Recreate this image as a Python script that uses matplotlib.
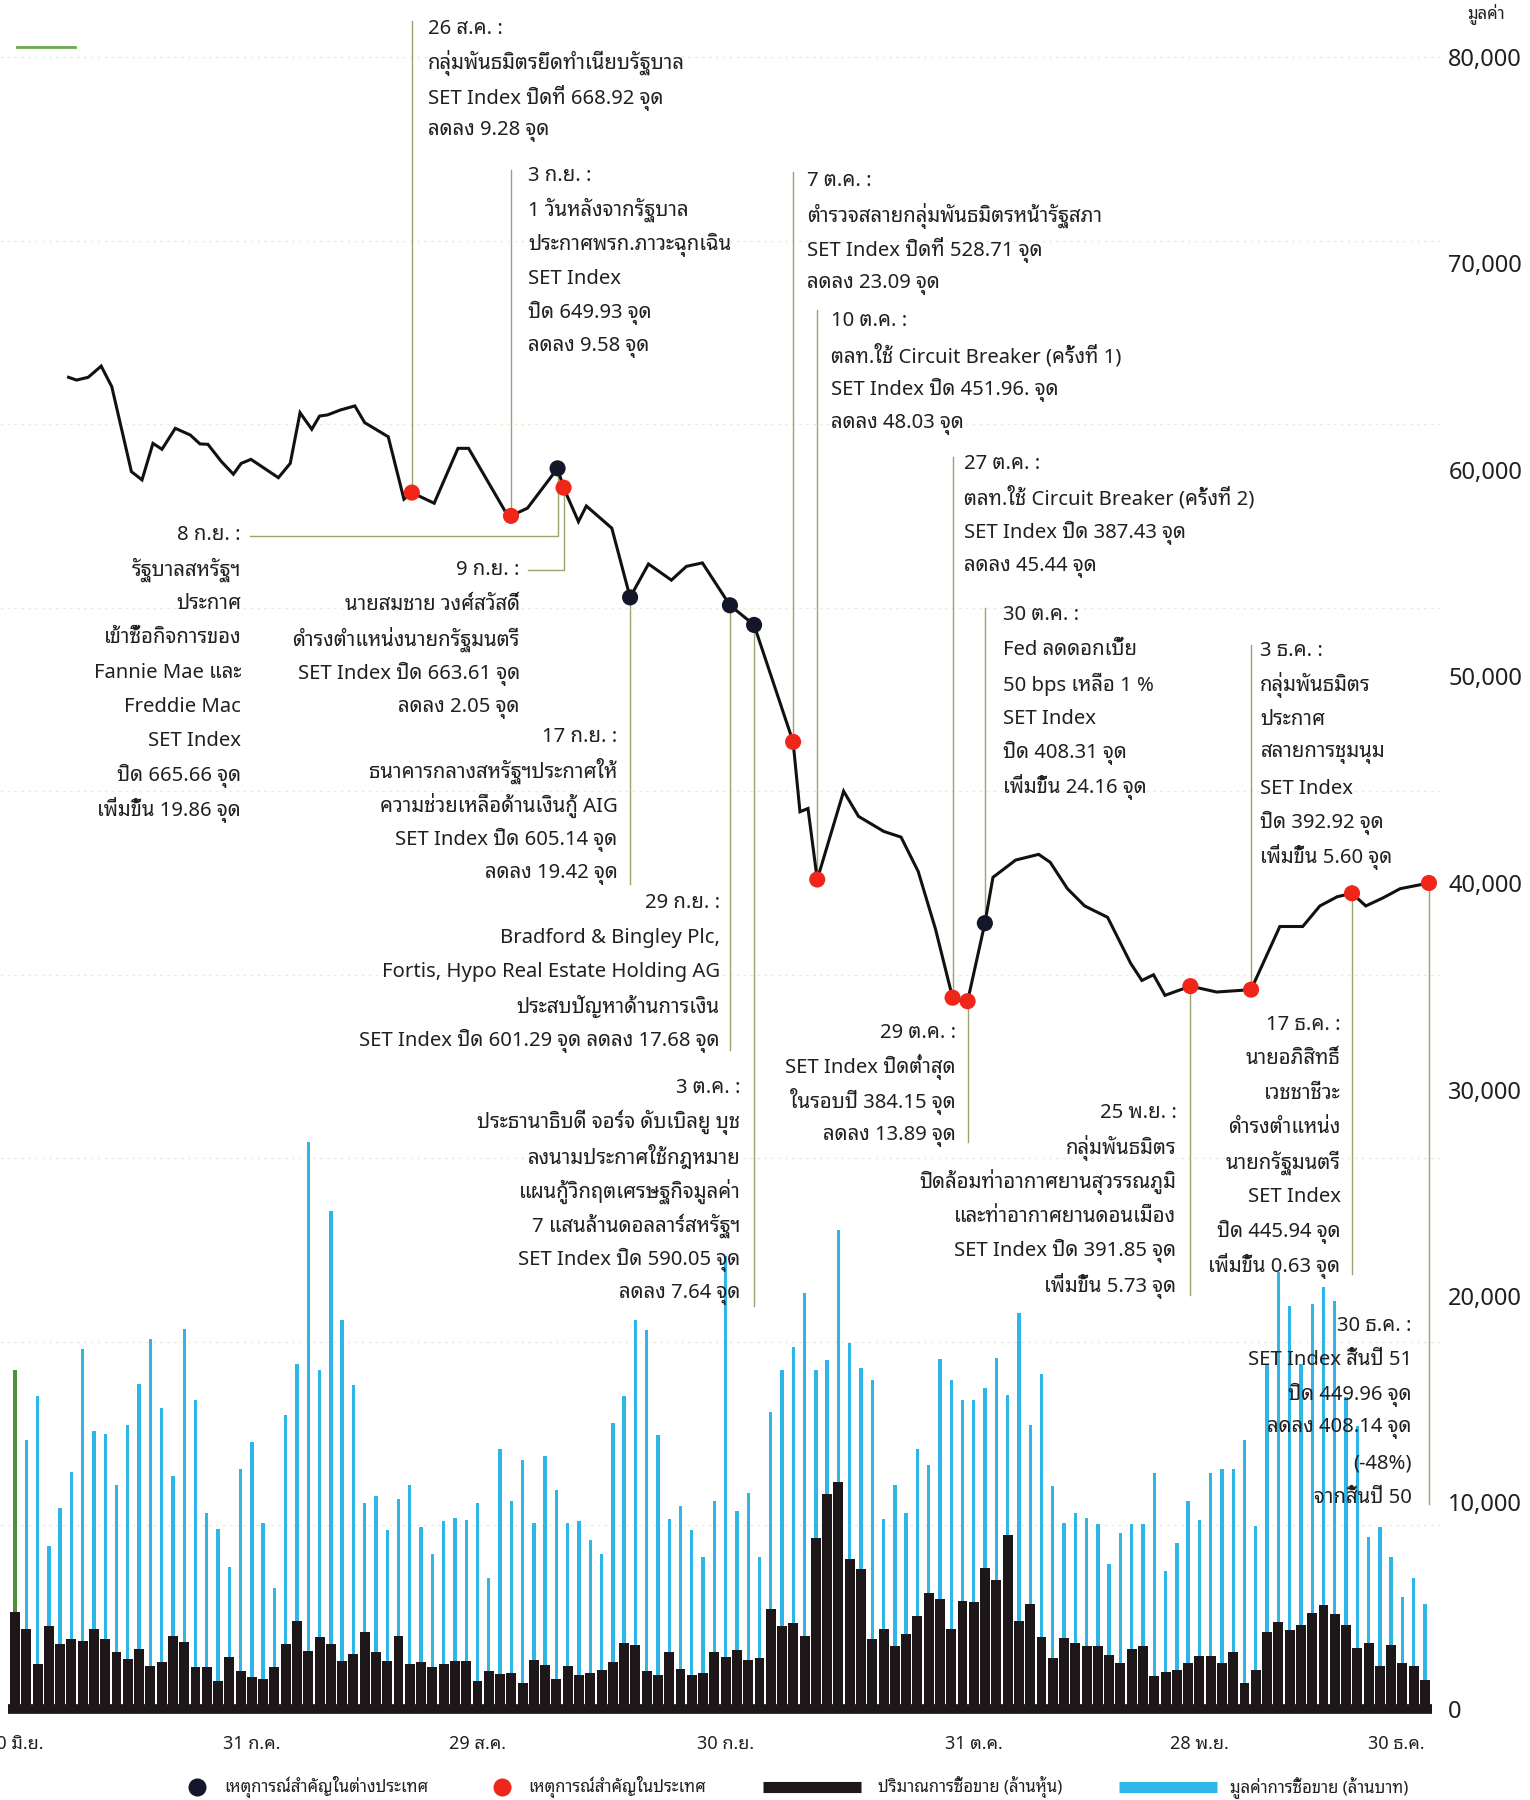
import numpy as np
import matplotlib
matplotlib.use('Agg')
import matplotlib.pyplot as plt
from matplotlib import font_manager, ft2font

W, H = 1530, 1800
S = W / 1333  # annotation layout was measured on a 1333 px wide copy

# daily turnover, 30 Jun - 30 Dec 2008
value_mb = [16420, 13030, 15140, 7890, 9730, 11500, 17430, 13450, 13300, 10830, 13760, 15730, 17930, 14590, 11290,
            18400, 14960, 9490, 8720, 6880, 11620, 12940,
            8990, 5870, 14220, 16700, 27470, 16420, 24130, 18850, 15690, 9960, 10330, 8680, 10150, 10830, 8810,
            7520, 9120, 9270, 9160, 10000, 6330,
            12570, 10090, 12060, 8990, 12240, 10590, 8990, 9080, 8170, 7520, 13850, 15180, 18850, 18350, 13270,
            9180, 9820, 8680, 7340, 10090, 21930,
            9600, 10460, 7340, 14400, 16420, 17520, 20150, 16420, 16880, 23180, 17710, 16520, 15910, 9180, 10830,
            9490, 12610, 11800, 16940, 15910, 14960,
            14960, 15540, 17010, 15230, 19180, 13760, 16240,
            10800, 9030, 9470, 9260, 8970, 7030, 8500, 8970, 8970, 11420, 6670, 8020, 10090, 9150, 11420, 11630,
            11630, 13040, 8850, 16730, 21150, 19520, 16730, 19590, 20440, 19740, 15130, 13720, 8320, 8800, 7350,
            5400, 6320, 5080]
volume_ms = [4680, 3870, 2180, 4030, 3150, 3390, 3310, 3870, 3390, 2740, 2420, 2900, 2100, 2260, 3550, 3230, 2020,
             2020, 1370, 2500, 1860, 1530, 1450, 2020, 3150, 4280, 2820, 3470, 3150, 2340, 2660, 3710, 2740, 2340,
             3550, 2180, 2260, 2020, 2180, 2340, 2340, 1370, 1860, 1700,
             1740, 1280, 2390, 2150, 1470, 2070, 1650, 1740, 1890, 2260, 3210, 3120, 1830, 1650, 2750, 1960, 1650,
             1740, 2750, 2510,
             2880, 2390, 2480, 4830, 4040, 4170, 3540, 8260, 10400, 11010, 7280, 6790, 3390, 3850, 3030, 3610,
             4500, 5630, 5320, 3850, 5230,
             5190, 6840, 6240, 8440, 4280, 5080, 3500,
             2480, 3450, 3190, 3060, 3060, 2600, 2250, 2920, 3060, 1590, 1770, 1890, 2250, 2570, 2570, 2250, 2740,
             1240, 1890, 3720, 4190, 3810, 4070, 4660, 5040, 4600, 4070, 2960, 3190, 2070, 3100, 2250, 2070, 1420]

tick_day = [0, 21, 41, 63, 85, 105, 125]
tick_text = ['30 มิ.ย.', '31 ก.ค.', '29 ส.ค.', '30 ก.ย.', '31 ต.ค.', '28 พ.ย.', '30 ธ.ค.']
value_ticks = [0, 10000, 20000, 30000, 40000, 50000, 60000, 70000, 80000]

# SET index line, vertices (x in trading-day units)
set_day = [4.75, 5.45, 6.49, 7.64, 8.58, 10.32, 11.26, 12.23, 13.03, 14.21, 15.53, 16.4, 17.1, 18.31, 19.36,
           20.05, 20.92, 23.35, 24.4, 25.27, 26.31, 27.0, 27.7, 28.85, 30.13, 31.0, 33.09, 34.48, 35.18, 37.16,
           39.27, 40.21, 43.52, 43.97, 45.43, 48.1, 48.63, 49.95, 50.65, 52.91,
           54.53, 56.16, 58.19, 59.52, 60.94, 63.38, 65.52, 68.98, 69.59, 70.3, 71.12, 73.46, 74.78, 77.02,
           78.55, 80.07, 81.6, 83.12, 83.94, 84.45, 85.98, 86.7, 88.71, 90.75, 91.77, 93.3, 94.83, 96.86, 98.9,
           99.9, 100.93, 101.95, 104.2, 106.53, 109.58, 112.13, 114.16, 115.68, 117.21, 118.53, 119.75, 121.28,
           122.8, 125.35]
set_close = [725.5, 724.0, 725.5, 731.6, 720.4, 674.1, 669.6, 689.5, 686.3, 697.7, 694.1, 689.2, 689.0, 679.5,
             672.7, 678.6, 680.8, 670.8, 678.6, 706.2, 697.2, 704.4, 705.0, 707.7, 709.9, 700.8, 693.1, 659.1,
             662.7, 656.9, 686.8, 686.8, 651.8, 650.0, 654.2, 675.9, 665.4, 646.9, 655.4, 643.3,
             605.6, 623.8, 615.0, 622.5, 624.4, 601.3, 590.6, 526.9, 488.8, 490.6, 451.9, 500.0, 486.3, 478.1,
             475.0, 456.3, 425.0, 387.5, 385.6, 385.6, 428.1, 453.1, 462.5, 465.6, 461.3, 446.9, 437.5, 431.3,
             406.3, 396.9, 400.0, 388.8, 393.8, 390.6, 391.9, 426.3, 426.3, 437.5, 442.5, 444.4, 437.5, 441.9,
             446.9, 450.0]

# key events: day, SET level, foreign (True) / domestic (False)
ev_day = [35.18, 43.97, 48.1, 48.63, 54.53, 63.38, 65.52, 68.98, 71.12, 83.12, 84.45, 85.98, 104.2, 109.58,
          118.53, 125.35]
ev_set = [662.7, 650.0, 675.9, 665.4, 605.6, 601.3, 590.6, 526.9, 451.9, 387.5, 385.6, 428.1, 393.8, 391.9,
          444.4, 450.0]
ev_foreign = [False, False, True, False, True, True, True, False, False, False, False, True, False, False,
              False, False]
ev_text = [
    ['26 ส.ค. :', 'กลุ่มพันธมิตรยึดทำเนียบรัฐบาล', 'SET Index ปิดที่ 668.92 จุด', 'ลดลง 9.28 จุด'],
    ['3 ก.ย. :', '1 วันหลังจากรัฐบาล', 'ประกาศพรก.ภาวะฉุกเฉิน', 'SET Index', 'ปิด 649.93 จุด', 'ลดลง 9.58 จุด'],
    ['8 ก.ย. :', 'รัฐบาลสหรัฐฯ', 'ประกาศ', 'เข้าซื้อกิจการของ', 'Fannie Mae และ', 'Freddie Mac', 'SET Index',
     'ปิด 665.66 จุด', 'เพิ่มขึ้น 19.86 จุด'],
    ['9 ก.ย. :', 'นายสมชาย วงศ์สวัสดิ์', 'ดำรงตำแหน่งนายกรัฐมนตรี', 'SET Index ปิด 663.61 จุด', 'ลดลง 2.05 จุด'],
    ['17 ก.ย. :', 'ธนาคารกลางสหรัฐฯประกาศให้', 'ความช่วยเหลือด้านเงินกู้ AIG', 'SET Index ปิด 605.14 จุด',
     'ลดลง 19.42 จุด'],
    ['29 ก.ย. :', 'Bradford & Bingley Plc,', 'Fortis, Hypo Real Estate Holding AG', 'ประสบปัญหาด้านการเงิน',
     'SET Index ปิด 601.29 จุด ลดลง 17.68 จุด'],
    ['3 ต.ค. :', 'ประธานาธิบดี จอร์จ ดับเบิลยู บุช', 'ลงนามประกาศใช้กฎหมาย', 'แผนกู้วิกฤตเศรษฐกิจมูลค่า',
     '7 แสนล้านดอลลาร์สหรัฐฯ', 'SET Index ปิด 590.05 จุด', 'ลดลง 7.64 จุด'],
    ['7 ต.ค. :', 'ตำรวจสลายกลุ่มพันธมิตรหน้ารัฐสภา', 'SET Index ปิดที่ 528.71 จุด', 'ลดลง 23.09 จุด'],
    ['10 ต.ค. :', 'ตลท.ใช้ Circuit Breaker (ครั้งที่ 1)', 'SET Index ปิด 451.96. จุด', 'ลดลง 48.03 จุด'],
    ['27 ต.ค. :', 'ตลท.ใช้ Circuit Breaker (ครั้งที่ 2)', 'SET Index ปิด 387.43 จุด', 'ลดลง 45.44 จุด'],
    ['29 ต.ค. :', 'SET Index ปิดต่ำสุด', 'ในรอบปี 384.15 จุด', 'ลดลง 13.89 จุด'],
    ['30 ต.ค. :', 'Fed ลดดอกเบี้ย', '50 bps เหลือ 1 %', 'SET Index', 'ปิด 408.31 จุด', 'เพิ่มขึ้น 24.16 จุด'],
    ['25 พ.ย. :', 'กลุ่มพันธมิตร', 'ปิดล้อมท่าอากาศยานสุวรรณภูมิ', 'และท่าอากาศยานดอนเมือง',
     'SET Index ปิด 391.85 จุด', 'เพิ่มขึ้น 5.73 จุด'],
    ['3 ธ.ค. :', 'กลุ่มพันธมิตร', 'ประกาศ', 'สลายการชุมนุม', 'SET Index', 'ปิด 392.92 จุด', 'เพิ่มขึ้น 5.60 จุด'],
    ['17 ธ.ค. :', 'นายอภิสิทธิ์', 'เวชชาชีวะ', 'ดำรงตำแหน่ง', 'นายกรัฐมนตรี', 'SET Index', 'ปิด 445.94 จุด',
     'เพิ่มขึ้น 0.63 จุด'],
    ['30 ธ.ค. :', 'SET Index สิ้นปี 51', 'ปิด 449.96 จุด', 'ลดลง 408.14 จุด', '(-48%)', 'จากสิ้นปี 50'],
]

# layout of each note (px on the 1333 wide copy): text x, first line y, align, leader kind, leader end y, elbow x
ev_layout = [
    (373, 25, 'left', 'up', 18, None),
    (460, 153, 'left', 'up', 148, None),
    (210, 466, 'right', 'elbow', 467, 218),
    (453, 497, 'right', 'elbow', 497, 460),
    (538, 642, 'right', 'down', 770, None),
    (627, 787, 'right', 'down', 915, None),
    (645, 948, 'right', 'down', 1138, None),
    (703, 158, 'left', 'up', 150, None),
    (724, 280, 'left', 'up', 270, None),
    (840, 404, 'left', 'up', 398, None),
    (833, 900, 'right', 'down', 995, None),
    (874, 536, 'left', 'up', 530, None),
    (1025, 970, 'right', 'down', 1128, None),
    (1098, 567, 'left', 'up', 562, None),
    (1168, 893, 'right', 'down', 1110, None),
    (1230, 1155, 'right', 'down', 1310, None),
]


def find_thai():
    prefs = ['Noto Sans Thai Looped', 'IBM Plex Sans Thai Looped', 'Loma', 'Noto Sans Thai']
    found = set()
    for f in font_manager.fontManager.ttflist:
        try:
            if 0x0E14 in ft2font.FT2Font(f.fname).get_charmap():
                found.add(f.name)
        except Exception:
            continue
    for p in prefs:
        if p in found:
            return p
    return sorted(found)[0] if found else 'DejaVu Sans'


thai = find_thai()
plt.rcParams['font.family'] = [thai, 'DejaVu Sans']

INK = '#231f20'
CYAN = '#2eb6e8'
BAR_K = '#1d1719'
RED = '#f0261b'
NAVY = '#14172a'
LEAD = '#9aa46e'

fig = plt.figure(figsize=(W / 100, H / 100), dpi=100)
fig.patch.set_facecolor('white')

x0_px, x1_px, right_px = 15, 1425, 1440
px_day = (x1_px - x0_px) / (len(value_mb) - 1)
zero_px, top_px, bottom_px = 1709, 57, 1716
px_unit = (zero_px - top_px) / 80000

ax = fig.add_axes([0, (H - bottom_px) / H, right_px / W, bottom_px / H])
ax.set_xlim(-x0_px / px_day, (right_px - x0_px) / px_day)
ax.set_ylim(-(bottom_px - zero_px) / px_unit, zero_px / px_unit)

ax2 = ax.twinx()
set_px = (zero_px - top_px) / 900
ax2.set_ylim(-(bottom_px - zero_px) / set_px, zero_px / set_px)
ax2.set_yticks([])
for sp in ax2.spines.values():
    sp.set_visible(False)

days = np.arange(len(value_mb))
for v in range(100, 1000, 100):
    ax.axhline(v * 80000 / 900, color='#ecebdd', lw=1, ls=(0, (2, 3)), zorder=0)
ax.axhline(80500, xmin=0.012, xmax=0.052, color='#6aa84f', lw=2, zorder=1)

bar_colors = ['#4f8f3a'] + [CYAN] * (len(value_mb) - 1)
ax.bar(days, value_mb, width=0.3, color=bar_colors, zorder=2)
ax.bar(days, volume_ms, width=0.88, color=BAR_K, zorder=3)
ax.hlines(0, -0.6, len(days) - 0.4, color=BAR_K, lw=7, zorder=4)

# twinx moved the ticks to the left, put the value scale back on the right
ax.yaxis.tick_right()
ax.set_yticks(value_ticks)
ax.set_yticklabels([f'{v:,}' for v in value_ticks], fontsize=17, color=INK, family='Noto Sans')
ax.set_xticks(tick_day)
ax.set_xticklabels(tick_text, fontsize=13, color=INK, fontweight='medium')
ax.get_xticklabels()[-1].set_ha('right')
ax.tick_params(axis='both', length=0)
ax.tick_params(axis='x', pad=14)
ax.tick_params(axis='y', pad=6)
for sp in ax.spines.values():
    sp.set_visible(False)

ax2.plot(set_day, set_close, color='#111111', lw=2.2, zorder=5, solid_joinstyle='miter')
ax2.scatter(ev_day, ev_set, s=135, c=[NAVY if f else RED for f in ev_foreign], zorder=7, linewidths=0)

inv = ax2.transData.inverted()
gap = 30 * S
for d, sv, lines, (tx, ty, ha, kind, ly, ex) in zip(ev_day, ev_set, ev_text, ev_layout):
    _, y_end = inv.transform((0, H - ly * S))
    if kind == 'elbow':
        x_end, _ = inv.transform((ex * S, 0))
        ax2.plot([d, d, x_end], [sv, y_end, y_end], color=LEAD, lw=1, zorder=4)
    else:
        ax2.plot([d, d], [sv, y_end], color=LEAD, lw=1, zorder=4)
    for i, s in enumerate(lines):
        fig.text(tx * S / W, 1 - (ty * S + i * gap) / H, s, ha=ha, va='center', fontsize=14.6,
                 color=INK, fontweight='medium')

fig.text(1467 / W, 1 - 14 / H, 'มูลค่า', fontsize=12, color=INK, va='center')

# legend along the bottom
ov = fig.add_axes([0, 0, 1, 1], zorder=10)
ov.set_xlim(0, W)
ov.set_ylim(H, 0)
ov.axis('off')
ly = 1787
ov.plot([197], [ly], 'o', ms=13, color=NAVY, mec='none')
ov.text(224, ly, 'เหตุการณ์สำคัญในต่างประเทศ', va='center', fontsize=12, color=INK)
ov.plot([502], [ly], 'o', ms=13, color=RED, mec='none')
ov.text(528, ly, 'เหตุการณ์สำคัญในประเทศ', va='center', fontsize=12, color=INK)
ov.plot([763, 861], [ly, ly], color=BAR_K, lw=8, solid_capstyle='butt')
ov.text(878, ly, 'ปริมาณการซื้อขาย (ล้านหุ้น)', va='center', fontsize=12, color=INK)
ov.plot([1119, 1217], [ly, ly], color=CYAN, lw=8, solid_capstyle='butt')
ov.text(1230, ly, 'มูลค่าการซื้อขาย (ล้านบาท)', va='center', fontsize=12, color=INK)

fig.savefig('out.png', dpi=100)
